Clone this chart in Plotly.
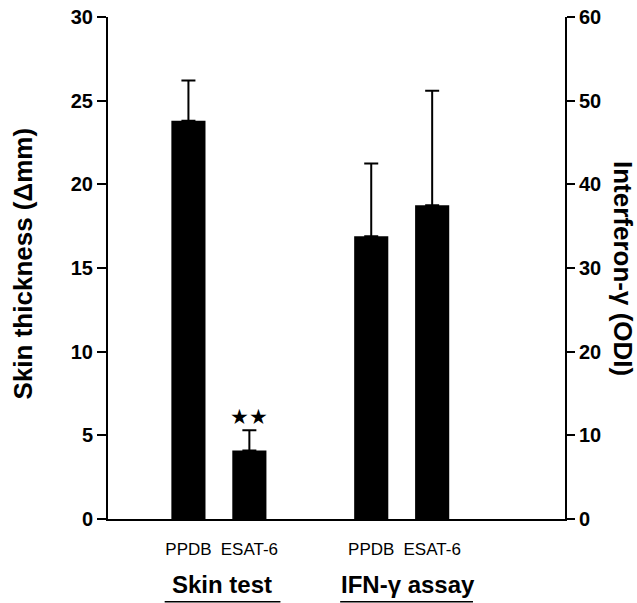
import plotly.graph_objects as go

# ---- data ----
categories = ["PPDB", "ESAT-6"]
groups = ["Skin test", "IFN-γ assay"]
skin_mean = [23.8, 4.1]        # Skin thickness (Δmm), left axis
skin_err = [2.4, 1.2]
ifn_mean = [33.8, 37.5]        # Interferon-γ (ODI), right axis
ifn_err = [8.7, 13.7]
left_ticks = [0, 5, 10, 15, 20, 25, 30]
right_ticks = [0, 10, 20, 30, 40, 50, 60]
skin_pos = [0, 1]
ifn_pos = [3, 4]

FONT = "Arial, Liberation Sans, sans-serif"

fig = go.Figure()
fig.add_trace(go.Bar(
    x=skin_pos, y=skin_mean, yaxis="y", width=0.56,
    marker=dict(color="black", line=dict(width=0)),
    error_y=dict(type="data", array=skin_err, arrayminus=[0] * len(skin_err),
                 symmetric=False, color="black", thickness=2, width=7),
    showlegend=False))
fig.add_trace(go.Bar(
    x=ifn_pos, y=ifn_mean, yaxis="y2", width=0.56,
    marker=dict(color="black", line=dict(width=0)),
    error_y=dict(type="data", array=ifn_err, arrayminus=[0] * len(ifn_err),
                 symmetric=False, color="black", thickness=2, width=7),
    showlegend=False))

tick_font = dict(family=FONT, size=20, color="black", weight="bold")

fig.update_layout(
    width=637, height=603,
    margin=dict(l=108, r=72, t=17, b=84, autoexpand=False),
    paper_bgcolor="white", plot_bgcolor="white",
    barmode="overlay",
    xaxis=dict(range=[-1.32, 6.18], showgrid=False, zeroline=False, automargin=False,
               showline=True, linecolor="black", linewidth=2,
               tickvals=skin_pos + ifn_pos, ticktext=categories + categories,
               ticks="", ticklabelstandoff=14,
               tickfont=dict(family=FONT, size=17, color="black")),
    yaxis=dict(range=[0, 30], tickvals=left_ticks, showgrid=False, zeroline=False,
               automargin=False,
               showline=True, linecolor="black", linewidth=2,
               ticks="outside", ticklen=9, tickwidth=2, tickcolor="black",
               tickfont=tick_font),
    yaxis2=dict(range=[0, 60], tickvals=right_ticks, overlaying="y", side="right",
                showgrid=False, zeroline=False, automargin=False,
                showline=True, linecolor="black", linewidth=2,
                ticks="outside", ticklen=8, tickwidth=2, tickcolor="black",
                tickfont=tick_font),
)

annotations = [
    dict(text="Skin thickness (Δmm)", textangle=-90, xref="paper", yref="paper",
         x=-0.185, y=0.51, xanchor="center", yanchor="middle", showarrow=False,
         font=dict(family=FONT, size=26, color="black", weight="bold")),
    dict(text="Interferon-γ (ODI)", textangle=90, xref="paper", yref="paper",
         x=1.127, y=0.5, xanchor="center", yanchor="middle", showarrow=False,
         font=dict(family=FONT, size=26, color="black", weight="bold")),
    dict(text="★★", xref="x", yref="y", x=skin_pos[1],
         y=skin_mean[1] + skin_err[1], yanchor="bottom", yshift=0, showarrow=False,
         font=dict(family=FONT, size=21, color="black")),
]
group_centers = [sum(skin_pos) / 2, sum(ifn_pos) / 2]
group_shift = [3, 6]
underline_half = [0.95, 1.09]
for g, c, s in zip(groups, group_centers, group_shift):
    annotations.append(dict(text=g, xref="x", yref="paper", x=c, xshift=s,
                            y=-0.131, yanchor="middle", showarrow=False,
                            font=dict(family=FONT, size=24, color="black", weight="bold")))
fig.update_layout(annotations=annotations)

shapes = []
for c, h, s in zip(group_centers, underline_half, [0.06, 0.08]):
    shapes.append(dict(type="line", xref="x", yref="paper", x0=c - h + s, x1=c + h + s,
                       y0=-0.165, y1=-0.165, line=dict(color="black", width=1.5)))
fig.update_layout(shapes=shapes)

fig.write_html("out.html", config={"displayModeBar": False},
               post_script="document.body.style.margin='0';document.body.style.overflow='hidden';")
